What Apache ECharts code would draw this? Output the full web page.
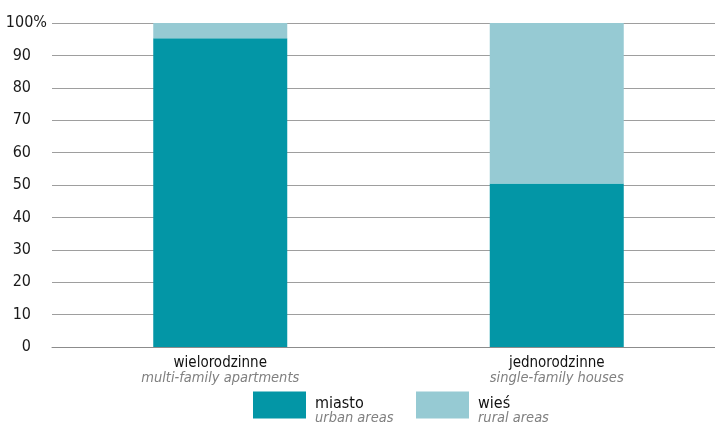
<!DOCTYPE html>
<html>
<head>
<meta charset="utf-8">
<script src="https://cdn.jsdelivr.net/npm/echarts@6/dist/echarts.min.js"></script>
<style>
  html, body { margin: 0; padding: 0; background: #fff; }
  #chart { width: 715px; height: 425px; }
</style>
</head>
<body>
<div id="chart"></div>
<script>
// Housing type categories (Polish name + English subtitle)
const categoriesPl = ['wielorodzinne', 'jednorodzinne'];
const categoriesEn = ['multi-family apartments', 'single-family houses'];

// Share of dwellings, percent
const miastoValues = [95.3, 50.5];
const wiesValues = [4.7, 49.5];

// Series names (Polish + English)
const seriesPl = ['miasto', 'wieś'];
const seriesEn = ['urban areas', 'rural areas'];

// Y axis ticks
const yMin = 0, yMax = 100, yStep = 10;

const FONT = "'DejaVu Sans Condensed', 'Liberation Sans Narrow', sans-serif";
const C_URBAN = '#0396a6';
const C_RURAL = '#96cad3';

const chart = echarts.init(document.getElementById('chart'), null, { renderer: 'canvas' });

const option = {
  animation: false,
  backgroundColor: '#ffffff',
  grid: { left: 52, width: 673, top: 23, bottom: 78, containLabel: false, outerBoundsMode: 'none' },
  legend: {
    left: 253,
    top: 387,
    padding: 0,
    itemWidth: 53,
    itemHeight: 27,
    itemGap: 21,
    icon: 'rect',
    selectedMode: false,
    data: seriesPl,
    // a short spacer line first so the two text lines sit slightly below the swatch centre
    formatter: function (name) {
      const i = seriesPl.indexOf(name);
      return '{e| }\n{a|' + name + '}\n{b|' + seriesEn[i] + '}';
    },
    textStyle: {
      padding: [0, 0, 0, 4],
      rich: {
        e: { fontSize: 8, lineHeight: 12, width: 80 },
        a: { fontFamily: FONT, fontSize: 16, color: '#111', lineHeight: 14, width: 80 },
        b: { fontFamily: FONT, fontSize: 14.5, fontStyle: 'italic', color: '#808080', lineHeight: 14, width: 80 }
      }
    }
  },
  xAxis: {
    type: 'category',
    data: categoriesPl,
    axisLine: { lineStyle: { color: '#8c8c8c', width: 1 } },
    axisTick: { show: false },
    axisLabel: {
      margin: 9,
      interval: 0,
      formatter: function (v, idx) {
        return '{a|' + v + '}\n{b|' + categoriesEn[idx] + '}';
      },
      rich: {
        a: { fontFamily: FONT, fontSize: 15, color: '#111', lineHeight: 15 },
        b: { fontFamily: FONT, fontSize: 14.5, fontStyle: 'italic', color: '#808080', lineHeight: 15 }
      }
    }
  },
  yAxis: {
    type: 'value',
    min: yMin,
    max: yMax,
    interval: yStep,
    axisLine: { show: false },
    axisTick: { show: false },
    splitLine: { lineStyle: { color: '#9e9e9e', width: 1 } },
    axisLabel: {
      margin: 5,
      align: 'right',
      formatter: function (v) {
        return v === yMax ? '{n|' + v + '%}' : '{n|' + v + '}{s| }';
      },
      rich: {
        n: { fontFamily: FONT, fontSize: 16, color: '#1a1a1a' },
        s: { fontFamily: FONT, fontSize: 16, width: 16 }
      }
    }
  },
  series: [
    {
      name: seriesPl[0],
      type: 'bar',
      stack: 'total',
      barWidth: 134,
      data: miastoValues,
      itemStyle: { color: C_URBAN }
    },
    {
      name: seriesPl[1],
      type: 'bar',
      stack: 'total',
      barWidth: 134,
      data: wiesValues,
      itemStyle: { color: C_RURAL }
    }
  ]
};

chart.setOption(option);
</script>
</body>
</html>
